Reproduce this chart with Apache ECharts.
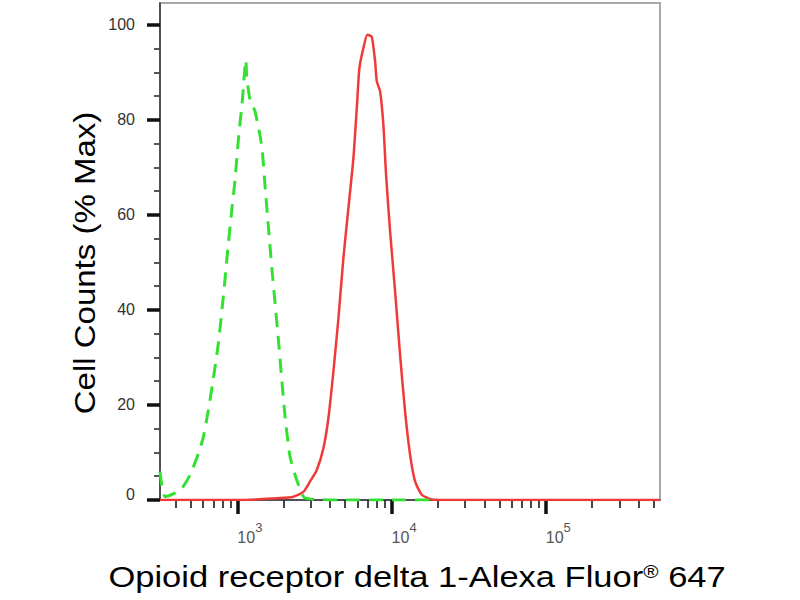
<!DOCTYPE html>
<html>
<head>
<meta charset="utf-8">
<script src="https://cdn.jsdelivr.net/npm/echarts@6/dist/echarts.min.js"></script>
<style>
  html, body { margin: 0; padding: 0; background: #fff; }
  #main { width: 800px; height: 600px; }
</style>
</head>
<body>
<div id="main"></div>
<script>
// isotype control (green, dashed)
var controlX = [315, 340, 425, 494, 559, 602, 649, 699, 753, 811, 854, 910, 966, 1015, 1078, 1134,
                1151, 1209, 1302, 1440, 1512, 1589, 1671, 1756, 1845, 1941, 2039, 2197, 2428, 2748, 5000, 10000, 20000];
var controlY = [6, 0.7, 2, 5.3, 9.8, 13.3, 19, 25.6, 33, 42.8, 50.5, 59.6, 67.4, 75.8, 84.2, 92.6,
                89, 84.2, 81.8, 74.4, 66, 57.5, 49, 41.4, 33.7, 25.3, 17.5, 9.1, 4.2, 0.4, 0, 0, 0];

// stained sample (red, solid)
var sampleX = [315, 1000, 1892, 2308, 2679, 2961, 3273, 3612, 3892, 4194, 4519, 4869, 5246, 5653, 5948, 6184,
               6564, 6967, 7438, 7819, 8017, 8424, 8847, 9210, 9779, 10537, 11355, 12232, 13183, 14206,
               15702, 17768, 20630, 100000, 550000];
var sampleY = [0, 0, 0.4, 0.7, 1.7, 3.9, 6.3, 10.9, 17.2, 27, 38.2, 50.9, 61.4, 71.9, 82.5, 90.9,
               95.1, 97.9, 97.5, 92.3, 88.1, 86, 78.9, 68.4, 56.5, 43.9, 30.5, 18.6, 9.5, 3.9,
               1.1, 0.2, 0, 0, 0];

var xMajorTicks = [1000, 10000, 100000];
var xMinorTicks = [400, 500, 600, 700, 800, 900,
                   2000, 3000, 4000, 5000, 6000, 7000, 8000, 9000,
                   20000, 30000, 40000, 50000, 60000, 70000, 80000, 90000,
                   200000, 300000, 400000, 500000];
var yMajorTicks = [0, 20, 40, 60, 80, 100];
var yMinorTicks = [5, 10, 15, 25, 30, 35, 45, 50, 55, 65, 70, 75, 85, 90, 95];

var xMin = 315, xMax = 550000, yMin = 0, yMax = 104.6;

function pairs(xs, ys) {
    return xs.map(function (x, i) { return [x, ys[i]]; });
}

var chart = echarts.init(document.getElementById('main'), null, {renderer: 'svg'});

var font = 'Liberation Sans, Arial, sans-serif';

var option = {
    animation: false,
    textStyle: { fontFamily: font },
    grid: {
        left: 160, right: 140, top: 3, bottom: 100,
        show: true, borderColor: '#a8a8a8', borderWidth: 2, backgroundColor: '#fff'
    },
    xAxis: [{
        type: 'log', logBase: 10, min: xMin, max: xMax, position: 'bottom',
        axisLine: { show: true, lineStyle: { color: '#333', width: 1.5 } },
        axisTick: { show: true, customValues: xMajorTicks, length: 14, lineStyle: { color: '#111', width: 3.5 } },
        splitLine: { show: false },
        axisLabel: {
            customValues: xMajorTicks, align: 'left', margin: 21,
            formatter: function (v) {
                return '{b|10}{s|' + Math.round(Math.log10(v)) + '}';
            },
            rich: {
                b: { fontSize: 16, color: '#555', fontFamily: font, verticalAlign: 'bottom', padding: [8, 0, 0, 0] },
                s: { fontSize: 13, color: '#555', fontFamily: font, verticalAlign: 'top' }
            }
        }
    }, {
        type: 'log', logBase: 10, min: xMin, max: xMax, position: 'bottom',
        axisLine: { show: false },
        axisTick: { show: true, customValues: xMinorTicks, length: 8, lineStyle: { color: '#333', width: 1.8 } },
        splitLine: { show: false },
        axisLabel: { show: false }
    }],
    yAxis: [{
        type: 'value', min: yMin, max: yMax, position: 'left',
        axisLine: { show: true, lineStyle: { color: '#333', width: 1.5 } },
        axisTick: { show: true, customValues: yMajorTicks, length: 13, lineStyle: { color: '#111', width: 3.5 } },
        splitLine: { show: false },
        axisLabel: {
            customValues: yMajorTicks, margin: 25, fontSize: 16, color: '#333',
            formatter: function (v) { return v === 0 ? '{z|0}' : String(v); },
            rich: { z: { fontSize: 16, color: '#333', fontFamily: font, padding: [0, 0, 12, 0] } }
        }
    }, {
        type: 'value', min: yMin, max: yMax, position: 'left',
        axisLine: { show: false },
        axisTick: { show: true, customValues: yMinorTicks, length: 6, lineStyle: { color: '#444', width: 1.8 } },
        splitLine: { show: false },
        axisLabel: { show: false }
    }],
    graphic: [{
        type: 'text', x: 417, y: 577, scaleX: 1.15,
        style: {
            text: '{m|Opioid receptor delta 1-Alexa Fluor}{s|®}{m| 647}',
            align: 'center', verticalAlign: 'middle',
            rich: {
                m: { fontSize: 30, fill: '#000', fontFamily: font, verticalAlign: 'bottom' },
                s: { fontSize: 18, fill: '#000', fontFamily: font, verticalAlign: 'top' }
            }
        }
    }, {
        type: 'text', x: 85, y: 263, rotation: Math.PI / 2, scaleX: 1.1,
        style: {
            text: 'Cell Counts (% Max)', fontSize: 30, fill: '#000', fontFamily: font,
            align: 'center', verticalAlign: 'middle'
        }
    }],
    series: [{
        type: 'line', name: 'sample', xAxisIndex: 0, yAxisIndex: 0,
        data: pairs(sampleX, sampleY), showSymbol: false, smooth: 0.2,
        lineStyle: { color: '#f03a3a', width: 2.5 }, z: 3
    }, {
        type: 'line', name: 'control', xAxisIndex: 0, yAxisIndex: 0,
        data: pairs(controlX, controlY), showSymbol: false, smooth: 0.2,
        lineStyle: { color: '#33e133', width: 3, type: [14, 9] }, z: 4
    }]
};
chart.setOption(option);
</script>
</body>
</html>
